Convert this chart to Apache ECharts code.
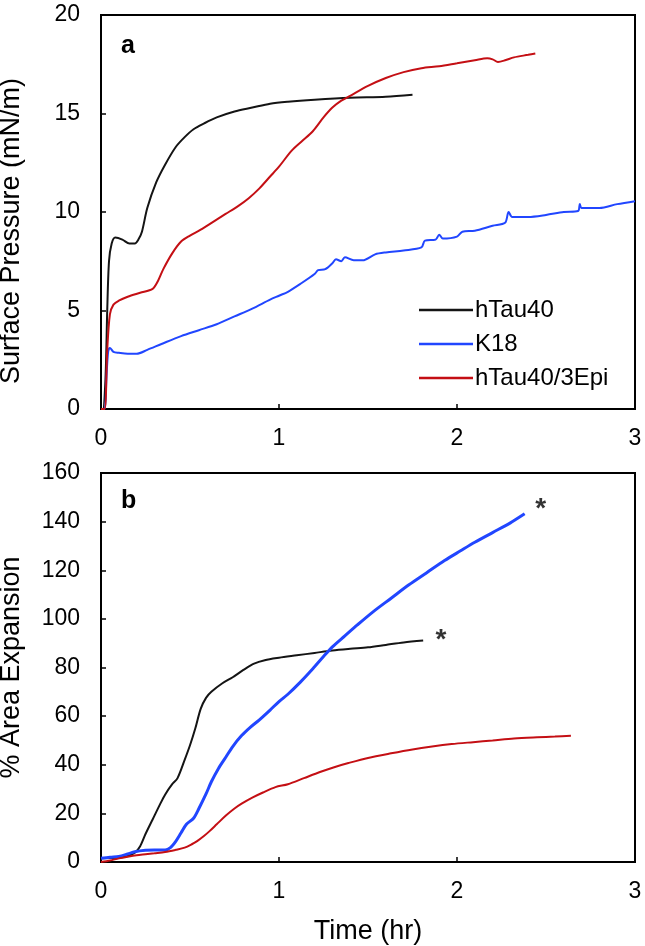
<!DOCTYPE html>
<html>
<head>
<meta charset="utf-8">
<script src="https://cdn.jsdelivr.net/npm/echarts@6/dist/echarts.min.js"></script>
<style>
html,body{margin:0;padding:0;background:#fff;}
#chart{width:645px;height:946px;}
</style>
</head>
<body>
<div id="chart"></div>
<script>
// ---------- data ----------
const seriesNames = ['hTau40', 'K18', 'hTau40/3Epi'];
const xTicks = [0, 1, 2, 3];
const pressureTicks = [0, 5, 10, 15, 20];
const expansionTicks = [0, 20, 40, 60, 80, 100, 120, 140, 160];

// Panel a: surface pressure (mN/m) vs time (hr)
const pressureHTau40 = [[0,0],[0.01,0],[0.025,1.5],[0.035,5],[0.045,7.5],[0.06,8.4],[0.08,8.7],[0.12,8.6],[0.16,8.4],[0.19,8.4],[0.21,8.6],[0.23,9.0],[0.26,10.2],[0.31,11.5],[0.36,12.4],[0.42,13.3],[0.47,13.8],[0.52,14.2],[0.58,14.5],[0.65,14.8],[0.75,15.1],[0.85,15.3],[0.95,15.5],[1.05,15.6],[1.2,15.7],[1.4,15.8],[1.6,15.85],[1.75,15.95]];
const pressureK18 = [[0,0],[0.02,0],[0.03,1.5],[0.04,2.9],[0.05,3.1],[0.07,2.9],[0.1,2.85],[0.15,2.8],[0.2,2.8],[0.26,3.0],[0.34,3.3],[0.45,3.7],[0.55,4.0],[0.65,4.3],[0.75,4.7],[0.85,5.1],[0.95,5.55],[1.0,5.75],[1.05,5.95],[1.12,6.35],[1.2,6.85],[1.22,7.05],[1.26,7.1],[1.3,7.4],[1.32,7.6],[1.35,7.5],[1.37,7.7],[1.42,7.55],[1.47,7.55],[1.54,7.85],[1.6,7.95],[1.7,8.05],[1.8,8.2],[1.82,8.55],[1.88,8.6],[1.9,8.85],[1.92,8.65],[2.0,8.75],[2.03,9.0],[2.1,9.05],[2.2,9.3],[2.27,9.45],[2.29,10.0],[2.31,9.75],[2.4,9.75],[2.5,9.85],[2.6,10.0],[2.68,10.05],[2.69,10.4],[2.7,10.2],[2.8,10.2],[2.9,10.4],[3.0,10.55]];
const pressureHTau40Epi = [[0,0],[0.02,0],[0.035,3],[0.05,4.8],[0.07,5.3],[0.1,5.5],[0.15,5.7],[0.22,5.9],[0.29,6.1],[0.32,6.5],[0.35,7.1],[0.4,7.9],[0.45,8.5],[0.5,8.8],[0.56,9.1],[0.63,9.5],[0.7,9.9],[0.77,10.3],[0.83,10.7],[0.89,11.2],[0.95,11.8],[1.0,12.3],[1.07,13.1],[1.13,13.6],[1.19,14.1],[1.25,14.8],[1.3,15.3],[1.35,15.65],[1.4,15.9],[1.5,16.4],[1.6,16.8],[1.7,17.1],[1.8,17.3],[1.9,17.4],[2.0,17.55],[2.1,17.7],[2.17,17.8],[2.2,17.75],[2.23,17.62],[2.27,17.7],[2.32,17.85],[2.4,17.98],[2.44,18.05]];

// Panel b: % area expansion vs time (hr)
const expansionHTau40 = [[0,1.5],[0.05,1.6],[0.1,1.8],[0.15,2.5],[0.19,3.8],[0.22,6.5],[0.25,11.5],[0.29,17.5],[0.33,23.5],[0.36,27.7],[0.4,32],[0.43,34.5],[0.47,42],[0.5,48],[0.53,55],[0.56,63],[0.59,67.5],[0.62,70],[0.68,73.4],[0.74,76],[0.8,79],[0.86,81.6],[0.92,83],[1.0,84],[1.1,85],[1.2,86],[1.3,87],[1.4,87.7],[1.5,88.3],[1.6,89.3],[1.7,90.3],[1.81,91.1]];
const expansionK18 = [[0,1.5],[0.05,2],[0.1,2.3],[0.15,3.3],[0.19,4.2],[0.25,4.8],[0.3,4.9],[0.36,4.9],[0.39,5.9],[0.42,8.5],[0.45,12],[0.48,15.5],[0.52,18],[0.55,22],[0.59,28],[0.62,33],[0.66,38.5],[0.7,43],[0.74,47.5],[0.79,52],[0.84,55.5],[0.89,58.5],[0.95,62.5],[1.0,66],[1.05,69],[1.12,74],[1.19,79.5],[1.25,84.5],[1.3,88.5],[1.37,93],[1.44,97.5],[1.53,103],[1.63,108.5],[1.73,114],[1.83,119],[1.93,124],[2.02,128],[2.1,131.5],[2.2,135.5],[2.3,139.5],[2.38,143.2]];
const expansionHTau40Epi = [[0,0],[0.05,0.6],[0.1,1.5],[0.15,2.2],[0.2,2.8],[0.25,3.2],[0.3,3.6],[0.36,4.1],[0.42,5],[0.47,5.9],[0.51,7.3],[0.54,8.6],[0.58,10.8],[0.61,12.7],[0.65,15.5],[0.7,19],[0.75,22],[0.79,24],[0.85,26.5],[0.91,28.6],[0.98,30.8],[1.05,32],[1.14,34.5],[1.23,37],[1.31,39],[1.39,40.7],[1.5,42.8],[1.63,44.7],[1.75,46.3],[1.86,47.5],[1.97,48.5],[2.09,49.3],[2.2,50],[2.32,50.8],[2.45,51.3],[2.55,51.6],[2.64,51.9]];

// asterisk annotations in panel b
const asteriskPoints = [[2.47, 145], [1.91, 91]];

// ---------- styles ----------
const FONT = 'Liberation Sans';
const colors = { 'hTau40': '#141414', 'K18': '#2146ff', 'hTau40/3Epi': '#c40f14' };

function xAxisCfg(gi, name) {
  return {
    type: 'value', gridIndex: gi, min: 0, max: 3, interval: 1,
    name: name || '', nameLocation: 'middle', nameGap: 56,
    nameTextStyle: { fontFamily: FONT, fontSize: 27, color: '#000' },
    axisLine: { show: true, lineStyle: { color: '#000', width: 2 } },
    axisTick: { show: true, inside: true, length: 5, lineStyle: { color: '#000', width: 1.5 } },
    axisLabel: { fontFamily: FONT, fontSize: 23, color: '#000', margin: 18, showMinLabel: true, showMaxLabel: true },
    splitLine: { show: false }
  };
}
function yAxisCfg(gi, max, interval, name, pad) {
  return {
    type: 'value', gridIndex: gi, min: 0, max: max, interval: interval,
    name: name, nameLocation: 'middle', nameGap: 76,
    nameTextStyle: { fontFamily: FONT, fontSize: 27, color: '#000', padding: pad },
    axisLine: { show: true, lineStyle: { color: '#000', width: 2 } },
    axisTick: { show: true, inside: true, length: 5, lineStyle: { color: '#000', width: 1.5 } },
    axisLabel: { fontFamily: FONT, fontSize: 23, color: '#000', margin: 21 },
    splitLine: { show: false }
  };
}
function lineSeries(name, data, gi, width) {
  return {
    type: 'line', name: name, data: data, xAxisIndex: gi, yAxisIndex: gi,
    showSymbol: false, symbol: 'none', smooth: 0.3,
    lineStyle: { color: colors[name], width: width },
    itemStyle: { color: colors[name] },
    z: 3
  };
}

const chart = echarts.init(document.getElementById('chart'), null, { renderer: 'canvas' });
chart.setOption({
  animation: false,
  backgroundColor: '#fff',
  grid: [
    { left: 101, top: 15, width: 534, height: 394, show: true, borderColor: '#000', borderWidth: 2, backgroundColor: 'transparent', outerBoundsMode: 'none', containLabel: false },
    { left: 101, top: 473, width: 534, height: 389, show: true, borderColor: '#000', borderWidth: 2, backgroundColor: 'transparent', outerBoundsMode: 'none', containLabel: false }
  ],
  xAxis: [xAxisCfg(0), xAxisCfg(1, 'Time (hr)')],
  yAxis: [
    yAxisCfg(0, pressureTicks[pressureTicks.length - 1], pressureTicks[1] - pressureTicks[0], 'Surface Pressure (mN/m)', [0, 38, 0, 0]),
    yAxisCfg(1, expansionTicks[expansionTicks.length - 1], expansionTicks[1] - expansionTicks[0], '% Area Expansion', [0, 0, 0, 0])
  ],
  legend: {
    data: seriesNames, orient: 'vertical', left: 414, top: 293,
    icon: 'rect', itemWidth: 54, itemHeight: 2.5, itemGap: 10,
    textStyle: { fontFamily: FONT, fontSize: 24, color: '#000', padding: [0, 0, 0, -3] },
    selectedMode: false
  },
  graphic: [
    { type: 'text', left: 121, top: 34, style: { text: 'a', font: 'bold 25px "Liberation Sans"', fill: '#000' } },
    { type: 'text', left: 121, top: 489, style: { text: 'b', font: 'bold 25px "Liberation Sans"', fill: '#000' } }
  ],
  series: [
    lineSeries('hTau40', pressureHTau40, 0, 2),
    lineSeries('K18', pressureK18, 0, 2),
    lineSeries('hTau40/3Epi', pressureHTau40Epi, 0, 2),
    lineSeries('hTau40', expansionHTau40, 1, 2),
    lineSeries('K18', expansionK18, 1, 3),
    lineSeries('hTau40/3Epi', expansionHTau40Epi, 1, 2),
    {
      type: 'scatter', xAxisIndex: 1, yAxisIndex: 1, data: asteriskPoints,
      symbol: 'circle', symbolSize: 2, itemStyle: { color: 'rgba(0,0,0,0)' },
      label: { show: true, position: 'inside', formatter: '*', fontFamily: FONT, fontSize: 28, fontWeight: 'bold', color: '#000' },
      silent: true, z: 4
    }
  ]
});
</script>
</body>
</html>
